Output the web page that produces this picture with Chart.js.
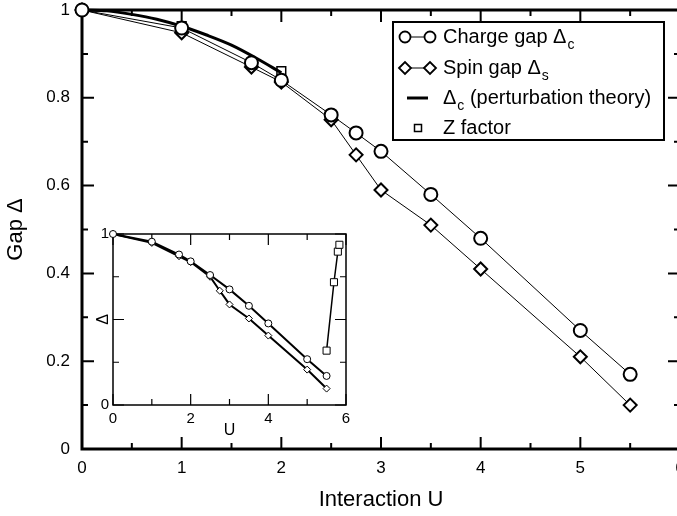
<!DOCTYPE html>
<html>
<head>
<meta charset="utf-8">
<script src="https://cdn.jsdelivr.net/npm/chart.js@4"></script>
<style>
  html, body { margin: 0; padding: 0; overflow: hidden; background: #fff; }
  #wrap { position: relative; width: 677px; height: 516px; overflow: hidden; }
  #main { position: absolute; left: 0; top: 0; }
  #inset { position: absolute; left: 88px; top: 226px; }
</style>
</head>
<body>
<div id="wrap">
  <canvas id="main" width="690" height="516"></canvas>
  <canvas id="inset" width="267" height="214"></canvas>
</div>
<script>
// main panel
var chargeU = [0, 1, 1.7, 2, 2.5, 2.75, 3, 3.5, 4, 5, 5.5];
var chargeGap = [1, 0.959, 0.88, 0.84, 0.761, 0.72, 0.678, 0.58, 0.48, 0.27, 0.17];
var spinU = [0, 1, 1.7, 2, 2.5, 2.75, 3, 3.5, 4, 5, 5.5];
var spinGap = [1, 0.948, 0.87, 0.836, 0.75, 0.67, 0.59, 0.51, 0.41, 0.21, 0.10];
var pertU = [0, 0.25, 0.5, 0.75, 1, 1.25, 1.5, 1.75, 2];
var pertGap = [1, 0.998, 0.99, 0.979, 0.963, 0.943, 0.92, 0.89, 0.857];
var zU = [0, 1, 2];
var zFactor = [1, 0.963, 0.861];

// inset panel
var insetChargeU = [0, 1, 1.7, 2, 2.5, 3, 3.5, 4, 5, 5.5];
var insetChargeGap = [1, 0.955, 0.88, 0.84, 0.76, 0.676, 0.58, 0.477, 0.268, 0.17];
var insetSpinU = [0, 1, 1.7, 2, 2.5, 2.75, 3, 3.5, 4, 5, 5.5];
var insetSpinGap = [1, 0.948, 0.87, 0.836, 0.75, 0.668, 0.588, 0.506, 0.406, 0.207, 0.096];
var insetZU = [5.5, 5.69, 5.79, 5.83];
var insetZ = [0.318, 0.718, 0.897, 0.937];

var legendLabels = ['Charge gap Δ', 'Spin gap Δ', 'Δ', 'Z factor'];
var legendSubs = ['c', 's', 'c', ''];
var legendTails = ['', '', ' (perturbation theory)', ''];

var FONT = '"Liberation Sans", Arial, Helvetica, sans-serif';

function pts(xs, ys) {
    return xs.map(function(x, i) { return {x: x, y: ys[i]}; });
}

// plain number labels: 1, 0.8, ... 0
function plainLabel(v) {
    return String(Math.round(v * 100) / 100);
}

// fixed axis boxes, no extra room for overflowing labels
function fixY(w) {
    return function(s) { s.width = w; s.paddingTop = 0; s.paddingBottom = 0; };
}
function fixX(h) {
    return function(s) { s.height = h; s.paddingLeft = 0; s.paddingRight = 0; };
}

// frame + inward ticks on all four sides
var frameTicks = {
    id: 'frameTicks',
    beforeDatasetsDraw: function(chart, args, o) {
        var ctx = chart.ctx, a = chart.chartArea;
        var sx = chart.scales.x, sy = chart.scales.y;
        ctx.save();
        ctx.strokeStyle = '#000';
        ctx.lineWidth = o.tickWidth;
        ctx.beginPath();
        o.xTicks.forEach(function(t) {
            var px = sx.getPixelForValue(t[0]);
            ctx.moveTo(px, a.bottom); ctx.lineTo(px, a.bottom - t[1]);
            ctx.moveTo(px, a.top); ctx.lineTo(px, a.top + t[1]);
        });
        o.yTicks.forEach(function(t) {
            var py = sy.getPixelForValue(t[0]);
            ctx.moveTo(a.left, py); ctx.lineTo(a.left + t[1], py);
            ctx.moveTo(a.right, py); ctx.lineTo(a.right - t[1], py);
        });
        ctx.stroke();
        ctx.lineWidth = o.frameWidth;
        ctx.strokeRect(a.left, a.top, a.right - a.left, a.bottom - a.top);
        ctx.restore();
    }
};

function tickList(from, to, major, minor, majLen, minLen) {
    var out = [];
    for (var v = from; v <= to + 1e-9; v += minor) {
        var isMajor = Math.abs(v / major - Math.round(v / major)) < 1e-6;
        out.push([v, isMajor ? majLen : minLen]);
    }
    return out;
}

// legend box drawn onto the main canvas
var boxLegend = {
    id: 'boxLegend',
    afterDraw: function(chart) {
        var ctx = chart.ctx;
        var left = 393, top = 22, right = 664, bottom = 140;
        var rows = [37, 68, 98, 128];
        ctx.save();
        ctx.fillStyle = '#fff';
        ctx.fillRect(left, top, right - left, bottom - top);
        ctx.strokeStyle = '#000';
        ctx.lineWidth = 2;
        ctx.strokeRect(left, top, right - left, bottom - top);

        // symbols
        ctx.lineWidth = 1;
        ctx.beginPath(); ctx.moveTo(405, rows[0]); ctx.lineTo(430, rows[0]); ctx.stroke();
        ctx.beginPath(); ctx.moveTo(405, rows[1]); ctx.lineTo(430, rows[1]); ctx.stroke();
        ctx.lineWidth = 1.8;
        [405, 430].forEach(function(x) {
            ctx.beginPath(); ctx.arc(x, rows[0], 5.5, 0, Math.PI * 2);
            ctx.fillStyle = '#fff'; ctx.fill(); ctx.stroke();
            ctx.beginPath();
            ctx.moveTo(x - 6, rows[1]); ctx.lineTo(x, rows[1] - 6);
            ctx.lineTo(x + 6, rows[1]); ctx.lineTo(x, rows[1] + 6); ctx.closePath();
            ctx.fill(); ctx.stroke();
        });
        ctx.lineWidth = 3;
        ctx.beginPath(); ctx.moveTo(407, rows[2]); ctx.lineTo(428, rows[2]); ctx.stroke();
        ctx.lineWidth = 1.5;
        ctx.strokeRect(414.5, rows[3] - 3.5, 7, 7);

        // texts
        ctx.fillStyle = '#000';
        ctx.textBaseline = 'middle';
        ctx.textAlign = 'left';
        for (var i = 0; i < 4; i++) {
            var x = 443;
            ctx.font = '20px ' + FONT;
            ctx.fillText(legendLabels[i], x, rows[i]);
            x += ctx.measureText(legendLabels[i]).width;
            if (legendSubs[i]) {
                ctx.font = '14px ' + FONT;
                ctx.fillText(legendSubs[i], x + 1, rows[i] + 8);
                x += ctx.measureText(legendSubs[i]).width + 1;
            }
            if (legendTails[i]) {
                ctx.font = '20px ' + FONT;
                ctx.fillText(legendTails[i], x, rows[i]);
            }
        }
        ctx.restore();
    }
};

function series(data, style, radius, border, lineW, showLine) {
    return {
        data: data,
        borderColor: '#000',
        borderWidth: lineW,
        showLine: showLine,
        pointStyle: style,
        pointRadius: radius,
        pointHoverRadius: radius,
        pointBorderWidth: border,
        pointBorderColor: '#000',
        pointBackgroundColor: '#fff',
        tension: 0,
        clip: false
    };
}

var mainCtx = document.getElementById('main');
var pert = series(pts(pertU, pertGap), false, 0, 0, 3, true);
pert.cubicInterpolationMode = 'monotone';

new Chart(mainCtx, {
    type: 'line',
    data: {
        datasets: [
            series(pts(chargeU, chargeGap), 'circle', 6.5, 2, 1, true),
            series(pts(spinU, spinGap), 'rectRot', 6.5, 2, 1, true),
            pert,
            series(pts(zU, zFactor), 'rect', 6.2, 1.5, 0, false)
        ]
    },
    options: {
        responsive: false,
        animation: false,
        devicePixelRatio: 1,
        layout: { padding: { top: 10, right: 10, left: 0, bottom: 0 } },
        plugins: {
            legend: { display: false },
            tooltip: { enabled: false },
            frameTicks: {
                frameWidth: 3,
                tickWidth: 2,
                xTicks: tickList(0, 6, 1, 0.5, 12, 6),
                yTicks: tickList(0, 1, 0.2, 0.1, 12, 6)
            }
        },
        scales: {
            x: {
                type: 'linear',
                min: 0, max: 6,
                afterFit: fixX(67),
                border: { display: false },
                grid: { display: false, drawTicks: false },
                ticks: {
                    stepSize: 1,
                    padding: 9,
                    color: '#000',
                    font: { family: FONT, size: 17 },
                    callback: plainLabel
                },
                title: {
                    display: true,
                    text: 'Interaction U',
                    color: '#000',
                    font: { family: FONT, size: 22 },
                    padding: { top: 0, bottom: 3 }
                }
            },
            y: {
                min: 0, max: 1,
                afterFit: fixY(82),
                border: { display: false },
                grid: { display: false, drawTicks: false },
                ticks: {
                    stepSize: 0.2,
                    padding: 12,
                    color: '#000',
                    font: { family: FONT, size: 17 },
                    callback: plainLabel
                },
                title: {
                    display: true,
                    text: 'Gap Δ',
                    color: '#000',
                    font: { family: FONT, size: 22 },
                    padding: { top: 3, bottom: 0 }
                }
            }
        }
    },
    plugins: [frameTicks, boxLegend]
});

var insetCtx = document.getElementById('inset');
new Chart(insetCtx, {
    type: 'line',
    data: {
        datasets: [
            series(pts(insetChargeU, insetChargeGap), 'circle', 3.5, 1, 2, true),
            series(pts(insetSpinU, insetSpinGap), 'rectRot', 3.5, 1, 2, true),
            series(pts(insetZU, insetZ), 'rect', 5, 1, 1.5, true)
        ]
    },
    options: {
        responsive: false,
        animation: false,
        devicePixelRatio: 1,
        layout: { padding: { top: 8, right: 9, left: 0, bottom: 0 } },
        plugins: {
            legend: { display: false },
            tooltip: { enabled: false },
            frameTicks: {
                frameWidth: 1.5,
                tickWidth: 1.2,
                xTicks: tickList(0, 6, 2, 1, 11, 6),
                yTicks: tickList(0, 1, 0.5, 0.25, 11, 6)
            }
        },
        scales: {
            x: {
                type: 'linear',
                min: 0, max: 6,
                afterFit: fixX(35),
                border: { display: false },
                grid: { display: false, drawTicks: false },
                ticks: {
                    stepSize: 2,
                    padding: 5,
                    color: '#000',
                    font: { family: FONT, size: 15 },
                    callback: plainLabel
                },
                title: {
                    display: true,
                    text: 'U',
                    color: '#000',
                    font: { family: FONT, size: 16 },
                    padding: { top: 0, bottom: 0 }
                }
            },
            y: {
                min: 0, max: 1,
                afterFit: fixY(25),
                border: { display: false },
                grid: { display: false, drawTicks: false },
                ticks: {
                    stepSize: 0.5,
                    padding: 4,
                    color: '#000',
                    font: { family: FONT, size: 15 },
                    callback: function(v) { return v === 0.5 ? '' : plainLabel(v); }
                },
                title: {
                    display: true,
                    text: 'Δ',
                    color: '#000',
                    font: { family: FONT, size: 16 },
                    padding: { top: 6, bottom: 0 }
                }
            }
        }
    },
    plugins: [frameTicks]
});
</script>
</body>
</html>
